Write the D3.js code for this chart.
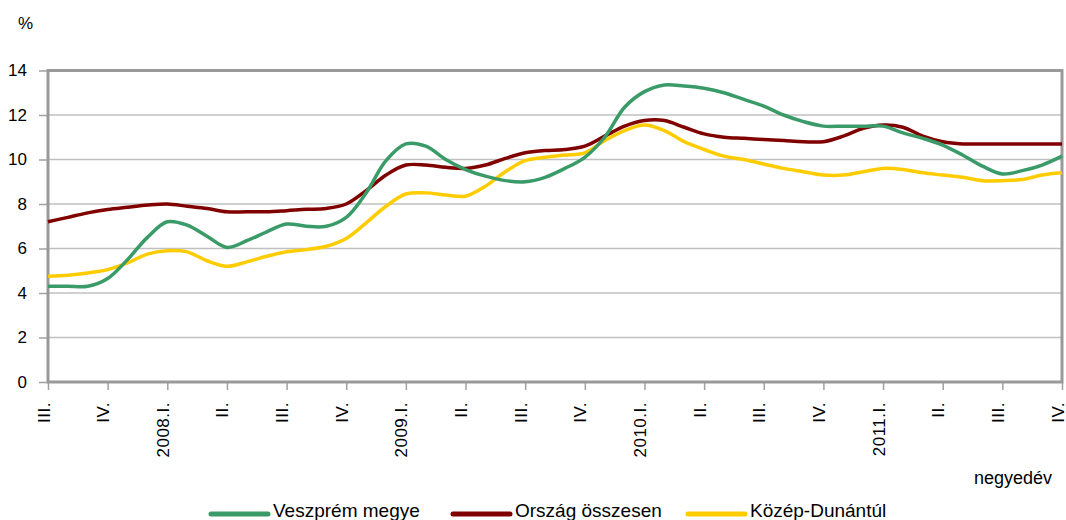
<!DOCTYPE html>
<html>
<head>
<meta charset="utf-8">
<script src="https://cdn.jsdelivr.net/npm/d3@7"></script>
<style>
  body { margin: 0; background: #fff; }
  text { font-family: "Liberation Sans", Arial, sans-serif; fill: #000; }
</style>
</head>
<body>
<script>
// quarter labels, one tick every 3 months
let quarters = ["III.","IV.","2008.I.","II.","III.","IV.","2009.I.","II.","III.","IV.",
                "2010.I.","II.","III.","IV.","2011.I.","II.","III.","IV."];

let seriesNames = ["Veszprém megye", "Ország összesen", "Közép-Dunántúl"];
let colors = ["#3a9b68", "#800000", "#ffcc00"];

// monthly values, %
let veszprem = [4.3, 4.3, 4.3, 4.65, 5.5, 6.5, 7.2, 7.05, 6.55, 6.05, 6.35, 6.75, 7.1, 7.0, 7.0, 7.4,
  8.5, 9.95, 10.7, 10.6, 10.0, 9.55, 9.25, 9.05, 9.0, 9.2, 9.6, 10.1, 11.0, 12.35, 13.05, 13.35,
  13.3, 13.2, 13.0, 12.7, 12.4, 12.0, 11.7, 11.5, 11.5, 11.5, 11.5, 11.2, 10.95, 10.65, 10.2, 9.7,
  9.35, 9.5, 9.75, 10.15];
let orszag = [7.2, 7.4, 7.6, 7.75, 7.85, 7.95, 8.0, 7.9, 7.8, 7.65, 7.65, 7.65, 7.7, 7.76, 7.8, 8.0,
  8.6, 9.3, 9.75, 9.75, 9.65, 9.6, 9.75, 10.05, 10.3, 10.4, 10.45, 10.6, 11.05, 11.5, 11.75, 11.75,
  11.45, 11.15, 11.0, 10.95, 10.9, 10.85, 10.8, 10.8, 11.05, 11.4, 11.55, 11.45, 11.05, 10.8, 10.7, 10.7,
  10.7, 10.7, 10.7, 10.7];
let kozep = [4.75, 4.8, 4.9, 5.05, 5.35, 5.75, 5.9, 5.85, 5.45, 5.2, 5.4, 5.65, 5.85, 5.95, 6.1, 6.45,
  7.15, 7.9, 8.45, 8.5, 8.4, 8.35, 8.8, 9.45, 9.95, 10.1, 10.2, 10.3, 10.85, 11.3, 11.55, 11.3,
  10.8, 10.45, 10.15, 10.0, 9.8, 9.6, 9.45, 9.3, 9.3, 9.45, 9.6, 9.55, 9.4, 9.3, 9.2, 9.05,
  9.05, 9.1, 9.3, 9.4];

let yTicks = [0, 2, 4, 6, 8, 10, 12, 14];

let w = 1066, h = 520;
let pLeft = 48, pRight = 1062, pTop = 70.5, pBottom = 382;

let svg = d3.select("body").append("svg")
            .attr("width", w)
            .attr("height", h);

let xScale = d3.scaleLinear()
               .domain([0, veszprem.length - 1])
               .range([pLeft, pRight]);

let yScale = d3.scaleLinear()
               .domain([0, 14])
               .range([pBottom, pTop]);

// gridlines
svg.append("g")
   .selectAll("line")
   .data(yTicks.slice(1, -1))
   .enter().append("line")
   .attr("x1", pLeft).attr("x2", pRight)
   .attr("y1", d => yScale(d)).attr("y2", d => yScale(d))
   .attr("stroke", "#c0c0c0")
   .attr("stroke-width", 1.5);

// y axis
let yAxis = d3.axisLeft(yScale)
              .tickValues(yTicks)
              .tickSize(9)
              .tickPadding(12)
              .tickFormat(d3.format("d"));

let gy = svg.append("g")
   .attr("transform", "translate(" + pLeft + ",0)")
   .call(yAxis);
gy.select(".domain").remove();
gy.selectAll("line").attr("stroke", "#a0a0a0").attr("stroke-width", 1.5);
gy.selectAll("text").style("font-size", "17px");

// x axis
let xAxis = d3.axisBottom(xScale)
              .tickValues(d3.range(0, veszprem.length, 3))
              .tickSize(8)
              .tickFormat((d, i) => quarters[i]);

let gx = svg.append("g")
   .attr("transform", "translate(0," + pBottom + ")")
   .call(xAxis);
gx.select(".domain").remove();
gx.selectAll("line").attr("stroke", "#a0a0a0").attr("stroke-width", 1.5);
gx.selectAll("text")
  .style("font-size", "17px")
  .style("letter-spacing", "0.5px")
  .attr("text-anchor", "end")
  .attr("y", 0)
  .attr("dy", 0)
  .attr("transform", "translate(1,20) rotate(-90)");

// frame
svg.append("rect")
   .attr("x", pLeft).attr("y", pTop)
   .attr("width", pRight - pLeft).attr("height", pBottom - pTop)
   .attr("fill", "none")
   .attr("stroke", "#999999")
   .attr("stroke-width", 3);

// lines
let line = d3.line()
             .x((d, i) => xScale(i))
             .y(d => yScale(d))
             .curve(d3.curveCatmullRom);

[orszag, kozep, veszprem].forEach((s) => {
  let k = s === veszprem ? 0 : (s === orszag ? 1 : 2);
  svg.append("path")
     .datum(s)
     .attr("d", line)
     .attr("fill", "none")
     .attr("stroke", colors[k])
     .attr("stroke-width", 3.5)
     .attr("stroke-linejoin", "round");
});

svg.append("text")
   .attr("x", 18).attr("y", 29)
   .style("font-size", "17px")
   .text("%");

svg.append("text")
   .attr("x", 1052).attr("y", 484)
   .attr("text-anchor", "end")
   .style("font-size", "18px")
   .text("negyedév");

// legend
let legendX = [211, 453, 688];
let legend = svg.selectAll(".legend")
    .data(seriesNames)
    .enter().append("g")
    .attr("class", "legend")
    .attr("transform", (d, i) => "translate(" + legendX[i] + ",514)");

legend.append("line")
   .attr("x1", 0).attr("x2", 57)
   .attr("stroke", (d, i) => colors[i])
   .attr("stroke-width", 5)
   .attr("stroke-linecap", "round");

legend.append("text")
   .attr("x", 62)
   .attr("y", 3)
   .style("font-size", "19px")
   .text(d => d);
</script>
</body>
</html>
